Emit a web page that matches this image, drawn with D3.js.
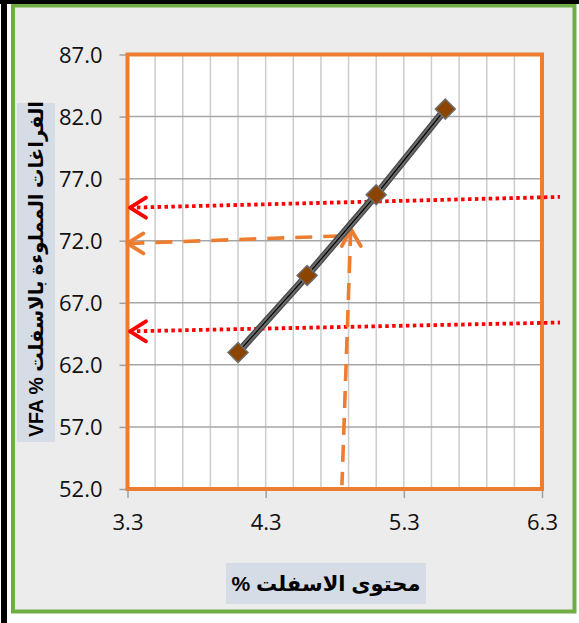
<!DOCTYPE html>
<html>
<head>
<meta charset="utf-8">
<script src="https://cdn.jsdelivr.net/npm/d3@7"></script>
<style>
  html, body { margin: 0; padding: 0; background: #ffffff; }
  svg { display: block; }
</style>
</head>
<body>
<svg id="chart" width="579" height="623"></svg>
<script>
// Asphalt content vs. VFA
const asphaltContent = [4.1, 4.6, 5.1, 5.6];
const vfaValues = [63.0, 69.2, 75.7, 82.6];

const xTicks = [3.3, 4.3, 5.3, 6.3];
const xMinorStep = 0.2;
const yTicks = [52, 57, 62, 67, 72, 77, 82, 87];

const xTitle = "محتوى الاسفلت %";
const yTitle = "VFA % الفراغات المملوءة بالاسفلت";

// VFA limit guides (75 % and 65 %) and the reading at the design binder content
const upperGuide = [[3.318, 74.66], [6.43, 75.53]];
const lowerGuide = [[3.318, 64.70], [6.43, 65.41]];
const readingHorizontal = [[3.299, 71.78], [4.88, 72.40]];
const readingVertical = [[4.916, 72.94], [4.852, 52.30]];

const svg = d3.select("#chart");
const W = 579, H = 623;

// frame
svg.append("rect").attr("x", 0).attr("y", 0).attr("width", W).attr("height", H).attr("fill", "#ffffff");
svg.append("rect").attr("x", 13).attr("y", 5.5).attr("width", 561.5).attr("height", 606)
  .attr("fill", "#ececec").attr("stroke", "#70ad47").attr("stroke-width", 4);
svg.append("rect").attr("x", 0).attr("y", 0).attr("width", W).attr("height", 4).attr("fill", "#000");
svg.append("rect").attr("x", 1).attr("y", 0).attr("width", 6).attr("height", H).attr("fill", "#000");

const x = d3.scaleLinear().domain([3.3, 6.3]).range([127.5, 542]);
const y = d3.scaleLinear().domain([52, 87]).range([489, 54.5]);

const plot = svg.append("g");
plot.append("rect")
  .attr("x", x(3.3)).attr("y", y(87))
  .attr("width", x(6.3) - x(3.3)).attr("height", y(52) - y(87))
  .attr("fill", "#ffffff");

// vertical grid every 0.2
const xMinor = d3.range(0, Math.round((6.3 - 3.3) / xMinorStep) + 1).map(i => +(3.3 + i * xMinorStep).toFixed(2));
plot.append("g").selectAll("line").data(xMinor).join("line")
  .attr("x1", d => x(d)).attr("x2", d => x(d))
  .attr("y1", y(87)).attr("y2", y(52))
  .attr("stroke", "#cccccc").attr("stroke-width", 1.5);

// horizontal grid at major ticks
plot.append("g").selectAll("line").data(yTicks).join("line")
  .attr("x1", x(3.3)).attr("x2", x(6.3))
  .attr("y1", d => y(d)).attr("y2", d => y(d))
  .attr("stroke", "#a6a6a6").attr("stroke-width", 1.5);

// axes
const yAxis = d3.axisLeft(y).tickValues(yTicks).tickFormat(d3.format(".1f")).tickSize(8).tickPadding(17);
const xAxis = d3.axisBottom(x).tickValues(xTicks).tickFormat(d3.format(".1f")).tickSize(9).tickPadding(16);

const gy = svg.append("g").attr("transform", `translate(${x(3.3)},0)`).call(yAxis);
const gx = svg.append("g").attr("transform", `translate(0,${y(52)})`).call(xAxis);
[gx, gy].forEach(g => {
  g.select(".domain").remove();
  g.selectAll(".tick line").attr("stroke", "#a0a0a0").attr("stroke-width", 1.5);
  g.selectAll(".tick text")
    .attr("fill", "#111")
    .style("font-family", "'Open Sans', 'Liberation Sans', sans-serif")
    .style("font-size", "22px");
});
gy.selectAll(".tick text").attr("dy", "0.36em");
gx.selectAll(".tick text").attr("dy", "0.71em");

// plot-area border
svg.append("rect")
  .attr("x", x(3.3)).attr("y", y(87))
  .attr("width", x(6.3) - x(3.3)).attr("height", y(52) - y(87))
  .attr("fill", "none").attr("stroke", "#ed7d31").attr("stroke-width", 4);

// guide lines
const guideLine = d3.line().x(d => x(d[0])).y(d => y(d[1]));
const red = "#ff0000", orange = "#ed7d31";

[upperGuide, lowerGuide].forEach(g => {
  svg.append("path").attr("d", guideLine(g))
    .attr("fill", "none").attr("stroke", red).attr("stroke-width", 3.8)
    .attr("stroke-dasharray", "3.5,3.4");
});
svg.append("path").attr("d", guideLine(readingHorizontal))
  .attr("fill", "none").attr("stroke", orange).attr("stroke-width", 3.6)
  .attr("stroke-dasharray", "17,11");
svg.append("path").attr("d", guideLine(readingVertical))
  .attr("fill", "none").attr("stroke", orange).attr("stroke-width", 3.6)
  .attr("stroke-dasharray", "17,10");

// open arrowheads
function leftHead(pt, color) {
  const px = x(pt[0]), py = y(pt[1]);
  svg.append("path")
    .attr("d", `M${px + 16},${py - 10} L${px},${py} L${px + 16},${py + 10}`)
    .attr("fill", "none").attr("stroke", color).attr("stroke-width", 3.8)
    .attr("stroke-linecap", "round").attr("stroke-linejoin", "round");
}
function upHead(pt, color) {
  const px = x(pt[0]), py = y(pt[1]);
  svg.append("path")
    .attr("d", `M${px - 9},${py + 17} L${px},${py} L${px + 10},${py + 17}`)
    .attr("fill", "none").attr("stroke", color).attr("stroke-width", 3.8)
    .attr("stroke-linecap", "round").attr("stroke-linejoin", "round");
}
leftHead(upperGuide[0], red);
leftHead(lowerGuide[0], red);
leftHead(readingHorizontal[0], orange);
upHead(readingVertical[0], orange);

// data series
const pts = asphaltContent.map((v, i) => [v, vfaValues[i]]);
const seriesLine = d3.line().x(d => x(d[0])).y(d => y(d[1]));
svg.append("path").attr("d", seriesLine(pts))
  .attr("fill", "none").attr("stroke", "#4a4a4a").attr("stroke-width", 7.5);
svg.append("path").attr("d", seriesLine(pts))
  .attr("fill", "none").attr("stroke", "#6b6b6b").attr("stroke-width", 5);
svg.append("path").attr("d", seriesLine(pts))
  .attr("fill", "none").attr("stroke", "#000").attr("stroke-width", 1.2);

svg.append("g").selectAll("path").data(pts).join("path")
  .attr("d", d3.symbol().type(d3.symbolSquare).size(200))
  .attr("transform", d => `translate(${x(d[0])},${y(d[1])}) rotate(45)`)
  .attr("fill", "#8c4500").attr("stroke", "#6e6e6e").attr("stroke-width", 1.5);

// axis titles
svg.append("rect").attr("x", 226).attr("y", 563).attr("width", 200).attr("height", 41).attr("fill", "#d6dce5");
svg.append("text")
  .attr("x", 326).attr("y", 591)
  .attr("text-anchor", "middle")
  .attr("direction", "rtl")
  .style("font-family", "'Liberation Sans', 'DejaVu Sans', sans-serif")
  .style("font-weight", "bold").style("font-size", "21px").attr("fill", "#000")
  .text(xTitle);

svg.append("rect").attr("x", 17).attr("y", 103).attr("width", 38).attr("height", 339).attr("fill", "#d6dce5");
svg.append("text")
  .attr("transform", "translate(43,269) rotate(-90)")
  .attr("text-anchor", "middle")
  .style("font-family", "'Liberation Sans', 'DejaVu Sans', sans-serif")
  .style("font-weight", "bold").style("font-size", "19.5px").attr("fill", "#000")
  .text(yTitle);
</script>
</body>
</html>
